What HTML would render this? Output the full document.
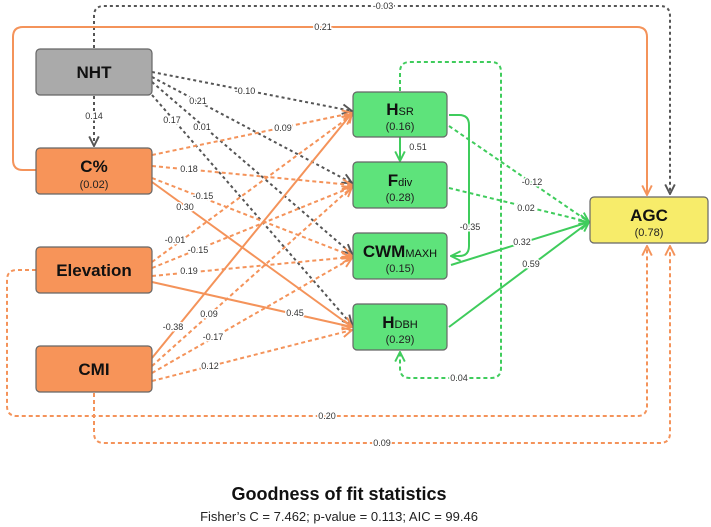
<!DOCTYPE html>
<html><head><meta charset="utf-8"><style>
html,body{margin:0;padding:0;background:#fff;}
svg{display:block;font-family:"Liberation Sans",sans-serif;}
.l{font-size:9px;fill:#333;text-anchor:middle;paint-order:stroke;stroke:#fff;stroke-width:3px;}
.o{stroke:#f4935a;stroke-width:2;fill:none;}
.od{stroke:#f4935a;stroke-width:2;fill:none;stroke-dasharray:4,3;}
.gd{stroke:#555;stroke-width:2;fill:none;stroke-dasharray:3,3;}
.g{stroke:#3fcc5c;stroke-width:2;fill:none;}
.gnd{stroke:#3fcc5c;stroke-width:2;fill:none;stroke-dasharray:4,3;}
.bt{font-weight:bold;font-size:17px;text-anchor:middle;fill:#111;}
.bs{font-size:11px;text-anchor:middle;fill:#222;}
</style></head><body>
<svg width="711" height="527" viewBox="0 0 711 527">
<defs>
<marker id="ao" viewBox="0 0 10 10" refX="9" refY="5" markerWidth="6" markerHeight="6" orient="auto"><path d="M1,1 L9,5 L1,9" fill="none" stroke="#f4935a" stroke-width="1.6"/></marker>
<marker id="ag" viewBox="0 0 10 10" refX="9" refY="5" markerWidth="6" markerHeight="6" orient="auto"><path d="M1,1 L9,5 L1,9" fill="none" stroke="#555" stroke-width="1.6"/></marker>
<marker id="an" viewBox="0 0 10 10" refX="9" refY="5" markerWidth="6" markerHeight="6" orient="auto"><path d="M1,1 L9,5 L1,9" fill="none" stroke="#3fcc5c" stroke-width="1.6"/></marker>
</defs>
<!-- top loops -->
<path class="gd" d="M94,48 V16 Q94,6 104,6 H660 Q670,6 670,16 V194" marker-end="url(#ag)"/>
<text class="l" x="383" y="9">-0.03</text>
<path class="o" d="M36,170 H23 Q13,170 13,160 V37 Q13,27 23,27 H637 Q647,27 647,37 V195" marker-end="url(#ao)"/>
<text class="l" x="323" y="30">0.21</text>
<!-- bottom loops -->
<path class="od" d="M36,270 H17 Q7,270 7,280 V406 Q7,416 17,416 H637 Q647,416 647,406 V246" marker-end="url(#ao)"/>
<text class="l" x="327" y="419">0.20</text>
<path class="od" d="M94,393 V433 Q94,443 104,443 H660 Q670,443 670,433 V246" marker-end="url(#ao)"/>
<text class="l" x="382" y="446">0.09</text>
<!-- NHT edges -->
<path class="gd" d="M94,96 V146" marker-end="url(#ag)"/>
<text class="l" x="94" y="119">0.14</text>
<path class="gd" d="M152,72 L352,111" marker-end="url(#ag)"/>
<path class="gd" d="M152,77 L352,183" marker-end="url(#ag)"/>
<path class="gd" d="M152,82 L352,254" marker-end="url(#ag)"/>
<path class="gd" d="M152,95 L352,325" marker-end="url(#ag)"/>
<!-- C% edges -->
<path class="od" d="M152,155 L352,113" marker-end="url(#ao)"/>
<path class="od" d="M152,166 L352,185" marker-end="url(#ao)"/>
<path class="od" d="M152,178 L352,256" marker-end="url(#ao)"/>
<path class="o" d="M152,182 L352,327" marker-end="url(#ao)"/>
<!-- Elevation -->
<path class="od" d="M152,262 L352,115" marker-end="url(#ao)"/>
<path class="od" d="M152,268 L352,187" marker-end="url(#ao)"/>
<path class="od" d="M152,276 L352,257" marker-end="url(#ao)"/>
<path class="o" d="M152,282 L352,327" marker-end="url(#ao)"/>
<!-- CMI -->
<path class="o" d="M152,358 L352,113" marker-end="url(#ao)"/>
<path class="od" d="M152,366 L352,187" marker-end="url(#ao)"/>
<path class="od" d="M152,373 L352,258" marker-end="url(#ao)"/>
<path class="od" d="M152,381 L352,330" marker-end="url(#ao)"/>
<!-- labels left -->
<text class="l" x="245" y="94">-0.10</text>
<text class="l" x="198" y="104">0.21</text>
<text class="l" x="202" y="130">0.01</text>
<text class="l" x="172" y="123">0.17</text>
<text class="l" x="283" y="131">0.09</text>
<text class="l" x="189" y="172">0.18</text>
<text class="l" x="203" y="199">-0.15</text>
<text class="l" x="185" y="210">0.30</text>
<text class="l" x="175" y="243">-0.01</text>
<text class="l" x="198" y="253">-0.15</text>
<text class="l" x="189" y="274">0.19</text>
<text class="l" x="295" y="316">0.45</text>
<text class="l" x="173" y="330">-0.38</text>
<text class="l" x="209" y="317">0.09</text>
<text class="l" x="213" y="340">-0.17</text>
<text class="l" x="210" y="369">0.12</text>
<!-- green -->
<path class="gnd" d="M400,91 V72 Q400,62 410,62 H491 Q501,62 501,72 V368 Q501,378 491,378 H410 Q400,378 400,368 V352" marker-end="url(#an)"/>
<text class="l" x="459" y="381">0.04</text>
<path class="g" d="M400,137 V161" marker-end="url(#an)"/>
<text class="l" x="418" y="150">0.51</text>
<path class="g" d="M449,115 H459 Q469,115 469,125 V246 Q469,256 459,256 H451" marker-end="url(#an)"/>
<text class="l" x="470" y="230">-0.35</text>
<path class="gnd" d="M449,126 L589,222" marker-end="url(#an)"/>
<text class="l" x="532" y="185">-0.12</text>
<path class="gnd" d="M449,188 L589,222" marker-end="url(#an)"/>
<text class="l" x="526" y="211">0.02</text>
<path class="g" d="M451,265 L589,222" marker-end="url(#an)"/>
<text class="l" x="522" y="245">0.32</text>
<path class="g" d="M449,327 L589,222" marker-end="url(#an)"/>
<text class="l" x="531" y="267">0.59</text>
<!-- boxes -->
<rect x="36" y="49" width="116" height="46" rx="4" fill="#aaaaaa" stroke="#666" stroke-width="1.2"/>
<text class="bt" x="94" y="78">NHT</text>
<rect x="36" y="148" width="116" height="46" rx="4" fill="#f79459" stroke="#666" stroke-width="1.2"/>
<text class="bt" x="94" y="172">C%</text><text class="bs" x="94" y="188">(0.02)</text>
<rect x="36" y="247" width="116" height="46" rx="4" fill="#f79459" stroke="#666" stroke-width="1.2"/>
<text class="bt" x="94" y="276">Elevation</text>
<rect x="36" y="346" width="116" height="46" rx="4" fill="#f79459" stroke="#666" stroke-width="1.2"/>
<text class="bt" x="94" y="375">CMI</text>
<rect x="353" y="92" width="94" height="45" rx="4" fill="#5ee37b" stroke="#666" stroke-width="1.2"/>
<text class="bt" x="400" y="115">H<tspan font-size="11" font-weight="normal">SR</tspan></text><text class="bs" x="400" y="130">(0.16)</text>
<rect x="353" y="162" width="94" height="46" rx="4" fill="#5ee37b" stroke="#666" stroke-width="1.2"/>
<text class="bt" x="400" y="186">F<tspan font-size="11" font-weight="normal">div</tspan></text><text class="bs" x="400" y="201">(0.28)</text>
<rect x="353" y="233" width="94" height="46" rx="4" fill="#5ee37b" stroke="#666" stroke-width="1.2"/>
<text class="bt" x="400" y="257">CWM<tspan font-size="11" font-weight="normal">MAXH</tspan></text><text class="bs" x="400" y="272">(0.15)</text>
<rect x="353" y="304" width="94" height="46" rx="4" fill="#5ee37b" stroke="#666" stroke-width="1.2"/>
<text class="bt" x="400" y="328">H<tspan font-size="11" font-weight="normal">DBH</tspan></text><text class="bs" x="400" y="343">(0.29)</text>
<rect x="590" y="197" width="118" height="46" rx="4" fill="#f7ec6a" stroke="#666" stroke-width="1.2"/>
<text class="bt" x="649" y="221" font-size="19">AGC</text><text class="bs" x="649" y="236">(0.78)</text>
<text x="339" y="500" font-size="18" font-weight="bold" text-anchor="middle" fill="#111">Goodness of fit statistics</text>
<text x="339" y="521" font-size="13" text-anchor="middle" fill="#222">Fisher’s C = 7.462; p-value = 0.113; AIC = 99.46</text>
</svg>
</body></html>
